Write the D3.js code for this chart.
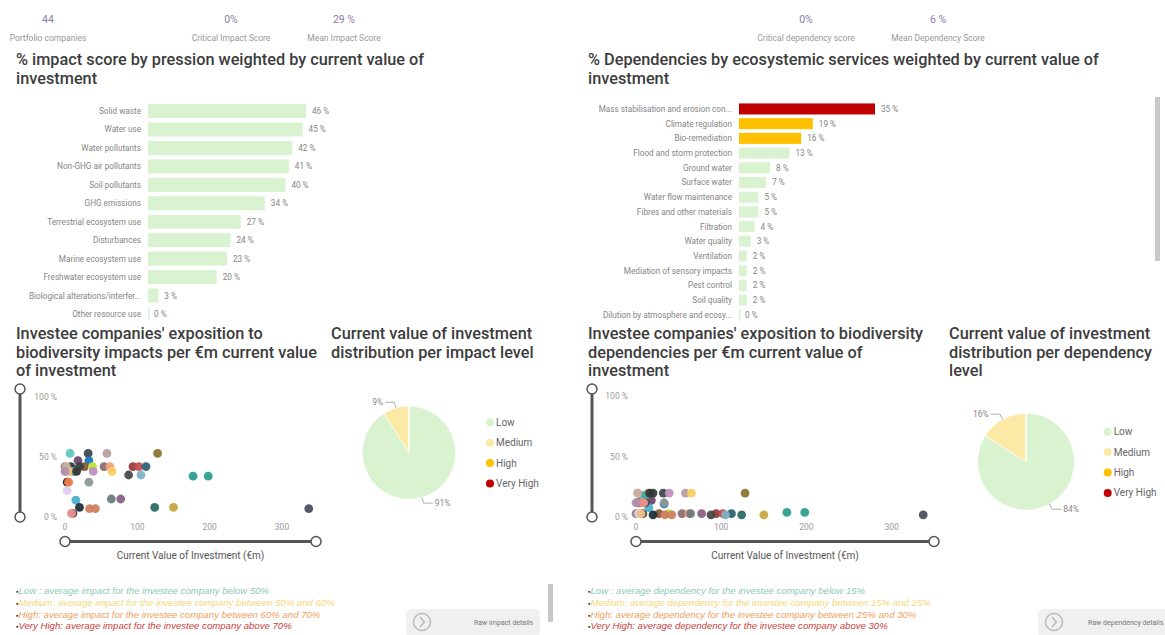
<!DOCTYPE html>
<html>
<head>
<meta charset="utf-8">
<script src="https://cdn.jsdelivr.net/npm/d3@7"></script>
<style>
  body { margin: 0; background: #fff; }
  text { font-family: Roboto, "Open Sans", sans-serif; }
</style>
</head>
<body>
<div id="vis"></div>
<script>
// KPI cards
const kpiImpactValues = ["44", "0%", "29 %"]
const kpiImpactLabels = ["Portfolio companies", "Critical Impact Score", "Mean Impact Score"]
const kpiDepValues = ["0%", "6 %"]
const kpiDepLabels = ["Critical dependency score", "Mean Dependency Score"]

// impact by pression
const pressions = ["Solid waste", "Water use", "Water pollutants", "Non-GHG air pollutants", "Soil pollutants",
  "GHG emissions", "Terrestrial ecosystem use", "Disturbances", "Marine ecosystem use",
  "Freshwater ecosystem use", "Biological alterations/interfer...", "Other resource use"]
const pressionScores = [46, 45, 42, 41, 40, 34, 27, 24, 23, 20, 3, 0]

// dependencies by ecosystem service
const services = ["Mass stabilisation and erosion con...", "Climate regulation", "Bio-remediation",
  "Flood and storm protection", "Ground water", "Surface water", "Water flow maintenance",
  "Fibres and other materials", "Filtration", "Water quality", "Ventilation",
  "Mediation of sensory impacts", "Pest control", "Soil quality", "Dilution by atmosphere and ecosy..."]
const serviceScores = [35, 19, 16, 13, 8, 7, 5, 5, 4, 3, 2, 2, 2, 2, 0]
const serviceLevels = ["Very High", "High", "High", "Low", "Low", "Low", "Low", "Low", "Low", "Low", "Low", "Low", "Low", "Low", "Low"]

// investee companies (44)
const companyValue = [7, 32, 58, 128, 18, 33, 0, 8, 27, 38, 54, 62, 94, 102, 112, 2, 14, 11, 39, 65,
  88, 105, 177, 198, 3, 5, 33, 3, 15, 64, 77, 20, 34, 42, 124, 150, 11, 9, 337, 20, 2, 6, 16, 0]
const companyImpact = [53, 53, 53, 53, 47, 47, 42, 42, 42, 42, 42, 42, 42, 42, 42, 38, 38, 38, 38, 38,
  35, 35, 34, 34, 29, 29, 29, 22, 14, 15, 15, 8, 7, 7, 8, 8, 3, 3, 7, 42, 42, 38, 38, 38]
const companyDependency = [18, 20, 20, 20, 14, 11, 3, 3, 3, 3, 3, 3, 3, 3, 3, 20, 20, 18, 20, 20,
  2, 2, 4, 4, 12, 12, 12, 3, 8, 3, 3, 2, 2, 2, 2, 2, 12, 12, 2, 20, 20, 3, 20, 12]
const companyColors = ["#5ec8c0", "#3f4a4f", "#b8a0a0", "#8b7433", "#6b4a6b", "#1a78c2", "#a08080", "#2e3b3b",
  "#8b5a3c", "#b8e62e", "#8b7070", "#f0a080", "#9b3a3a", "#c05050", "#2e6478", "#d0a0b0", "#e8a050", "#4aa8a8",
  "#c090c0", "#f8d060", "#4a4a4a", "#80b0c0", "#2e9e90", "#30a090", "#302020", "#f08050", "#909898", "#ddd0f0",
  "#4ab0d0", "#6b7b7b", "#8b6088", "#203038", "#d08060", "#d08060", "#2e6e68", "#c8a840", "#504850", "#f09090",
  "#4a5060", "#3a4040", "#c8b0a0", "#f0c080", "#303838", "#b090b0"]

// value distribution per level
const levels = ["Low", "Medium", "High", "Very High"]
const impactShare = [91, 9, 0, 0]
const dependencyShare = [84, 16, 0, 0]
const yTicks = [0, 50, 100]
const xTicks = [0, 100, 200, 300]

const notesImpact = ["Low : average impact for the investee company below 50%",
  "Medium: average impact for the investee company between 50% and 60%",
  "High: average impact for the investee company between 60% and 70%",
  "Very High: average impact for the investee company above 70%"]
const notesDep = ["Low : average dependency for the investee company below 15%",
  "Medium: average dependency for the investee company between 15% and 25%",
  "High: average dependency for the investee company between 25% and 30%",
  "Very High: average dependency for the investee company above 30%"]

const levelColor = d3.scaleOrdinal().domain(levels).range(["#d9f2d0", "#fde9a6", "#ffc000", "#c00000"])
const noteColors = ["#8fc8b8", "#f5d77a", "#f0a060", "#c84040"]

const width = 1165
const height = 635

const svg = d3.select("#vis")
  .append("svg")
  .attr("width", width)
  .attr("height", height)

// KPI
function kpis(values, labels, xs){
  values.forEach((v, i) => {
    svg.append("text").attr("x", xs[i]).attr("y", 23).attr("text-anchor", "middle")
      .style("font-size", "10.5px").style("fill", "#8a7daa").text(v)
    svg.append("text").attr("x", xs[i]).attr("y", 41).attr("text-anchor", "middle")
      .style("font-size", "8.5px").style("fill", "#999").text(labels[i])
  })
}
kpis(kpiImpactValues, kpiImpactLabels, [48, 231, 344])
kpis(kpiDepValues, kpiDepLabels, [806, 938])

function title(x, y, lines){
  lines.forEach((l, i) => {
    svg.append("text").attr("x", x).attr("y", y + i * 18.5)
      .style("font-size", "16.3px").style("font-weight", 500).style("fill", "#3c3c3c").text(l)
  })
}
title(16, 65, ["% impact score by pression weighted by current value of", "investment"])
title(588, 65, ["% Dependencies by ecosystemic services weighted by current value of", "investment"])
title(16, 339, ["Investee companies' exposition to", "biodiversity impacts per €m current value", "of investment"])
title(331, 339, ["Current value of investment", "distribution per impact level"])
title(588, 339, ["Investee companies' exposition to biodiversity", "dependencies per €m current value of", "investment"])
title(949, 339, ["Current value of investment", "distribution per dependency", "level"])

// bar charts
function bars(cats, vals, colors, x0, xMax, pxMax, y0, y1, pad){
  const x = d3.scaleLinear().domain([0, xMax]).range([x0, x0 + pxMax])
  const y = d3.scaleBand().domain(cats).range([y0, y1]).paddingInner(pad).paddingOuter(pad / 2)
  const g = svg.append("g")
  g.selectAll("rect").data(vals).enter().append("rect")
    .attr("x", x(0))
    .attr("y", (d, i) => y(cats[i]))
    .attr("width", d => Math.max(x(d) - x(0), d > 0 ? 0 : 1.5))
    .attr("height", y.bandwidth())
    .attr("fill", (d, i) => colors[i])
  g.selectAll(".cat").data(cats).enter().append("text")
    .attr("x", x0 - 7)
    .attr("y", d => y(d) + y.bandwidth() / 2 + 3)
    .attr("text-anchor", "end")
    .style("font-size", "8.2px").style("fill", "#858585")
    .text(d => d)
  g.selectAll(".val").data(vals).enter().append("text")
    .attr("x", d => x(d) + 6)
    .attr("y", (d, i) => y(cats[i]) + y.bandwidth() / 2 + 3)
    .style("font-size", "8.2px").style("fill", "#858585")
    .text(d => d + " %")
}
bars(pressions, pressionScores, pressionScores.map(() => levelColor("Low")), 148, 46, 158, 101.8, 323.2, 0.24)
bars(services, serviceScores, serviceLevels.map(l => levelColor(l)), 739, 35, 136, 101.6, 322.2, 0.25)

// scrollbars
svg.append("rect").attr("x", 1155).attr("y", 97).attr("width", 5).attr("height", 164).attr("fill", "#c8c8c8")
svg.append("rect").attr("x", 548).attr("y", 584).attr("width", 5).attr("height", 38).attr("fill", "#c8c8c8")

// scatter plots
function scatter(x0, x300, yBottom, yTop, sliderX, sliderEndX, yVals){
  const x = d3.scaleLinear().domain([0, 300]).range([x0, x300])
  const y = d3.scaleLinear().domain([0, 100]).range([yBottom, yTop])
  const g = svg.append("g")
  g.selectAll(".yt").data(yTicks).enter().append("text")
    .attr("x", x0 - 8).attr("y", d => y(d) + 3).attr("text-anchor", "end")
    .style("font-size", "8.5px").style("fill", "#999").text(d => d + " %")
  g.selectAll(".xt").data(xTicks).enter().append("text")
    .attr("x", d => x(d)).attr("y", yBottom + 13).attr("text-anchor", "middle")
    .style("font-size", "8.5px").style("fill", "#999").text(d => d)
  g.selectAll("circle.dot").data(companyValue).enter().append("circle")
    .attr("class", "dot")
    .attr("cx", d => x(d))
    .attr("cy", (d, i) => y(yVals[i]))
    .attr("r", 4.4)
    .attr("fill", (d, i) => companyColors[i])
    .attr("fill-opacity", 0.95)
  // sliders
  g.append("line").attr("x1", sliderX).attr("x2", sliderX).attr("y1", 389).attr("y2", 517)
    .attr("stroke", "#555").attr("stroke-width", 3)
  g.append("line").attr("x1", x0).attr("x2", sliderEndX).attr("y1", 541.5).attr("y2", 541.5)
    .attr("stroke", "#555").attr("stroke-width", 3)
  const knobs = [[sliderX, 389], [sliderX, 517], [x0, 541.5], [sliderEndX, 541.5]]
  g.selectAll("circle.knob").data(knobs).enter().append("circle")
    .attr("class", "knob")
    .attr("cx", d => d[0]).attr("cy", d => d[1]).attr("r", 5)
    .attr("fill", "#fff").attr("stroke", "#555").attr("stroke-width", 1.5)
  g.append("text").attr("x", (x0 + sliderEndX) / 2).attr("y", 559).attr("text-anchor", "middle")
    .style("font-size", "10px").style("fill", "#555").text("Current Value of Investment (€m)")
}
scatter(65, 282, 517, 397, 20, 316, companyImpact)
scatter(636, 891.7, 517.3, 396, 592, 934, companyDependency)

// pies
function pie(cx, cy, r, shares, legendX, legendY){
  const data = d3.pie().sort(null)(shares)
  const arc = d3.arc().innerRadius(0).outerRadius(r)
  const g = svg.append("g").attr("transform", `translate(${cx},${cy})`)
  g.selectAll("path").data(data).enter().append("path")
    .attr("d", arc)
    .attr("fill", (d, i) => levelColor(levels[i]))
    .attr("stroke", "#fff").attr("stroke-width", 0.5)
  data.filter(d => d.value > 0).forEach(d => {
    const a = (d.startAngle + d.endAngle) / 2
    const p1 = [Math.sin(a) * r, -Math.cos(a) * r]
    const p2 = [Math.sin(a) * (r + 6), -Math.cos(a) * (r + 6)]
    const side = Math.sin(a) < 0 ? -1 : 1
    const p3 = [p2[0] + side * 9, p2[1]]
    g.append("polyline").attr("points", [p1, p2, p3].map(p => p.join(",")).join(" "))
      .attr("fill", "none").attr("stroke", "#999").attr("stroke-width", 0.8)
    g.append("text").attr("x", p3[0] + side * 2).attr("y", p3[1] + 3)
      .attr("text-anchor", side < 0 ? "end" : "start")
      .style("font-size", "8.5px").style("fill", "#888").text(d.value + "%")
  })
  levels.forEach((l, i) => {
    svg.append("circle").attr("cx", legendX).attr("cy", legendY + i * 20.4).attr("r", 4).attr("fill", levelColor(l))
    svg.append("text").attr("x", legendX + 6).attr("y", legendY + i * 20.4 + 3.5)
      .style("font-size", "10px").style("fill", "#666").text(l)
  })
}
pie(409, 452.7, 46.5, impactShare, 490, 422.3)
pie(1026, 461.7, 48.3, dependencyShare, 1107.7, 431.7)

// level notes
function notes(x, lines){
  lines.forEach((l, i) => {
    const t = svg.append("text").attr("x", x).attr("y", 594 + i * 11.8)
      .style("font-family", "'Liberation Sans', Arial, sans-serif").style("font-size", "9.6px")
    t.append("tspan").style("fill", "#333").style("font-size", "7px").text("▪")
    t.append("tspan").style("fill", noteColors[i]).style("font-style", "italic").text(l)
  })
}
notes(16, notesImpact)
notes(588, notesDep)

// buttons
function button(x, w, label, tx){
  svg.append("rect").attr("x", x).attr("y", 609).attr("width", w).attr("height", 28).attr("rx", 5).attr("fill", "#f0f0f0")
  svg.append("circle").attr("cx", x + 16).attr("cy", 622).attr("r", 8.5).attr("fill", "none").attr("stroke", "#bbb").attr("stroke-width", 1.5)
  svg.append("polyline").attr("points", `${x + 14},${617} ${x + 18.5},${622} ${x + 14},${627}`)
    .attr("fill", "none").attr("stroke", "#bbb").attr("stroke-width", 1.5)
  svg.append("text").attr("x", tx).attr("y", 625)
    .style("font-size", "7px").style("fill", "#777").text(label)
}
button(406, 134, "Raw impact details", 474)
button(1038, 140, "Raw dependency details", 1088)
</script>
</body>
</html>
